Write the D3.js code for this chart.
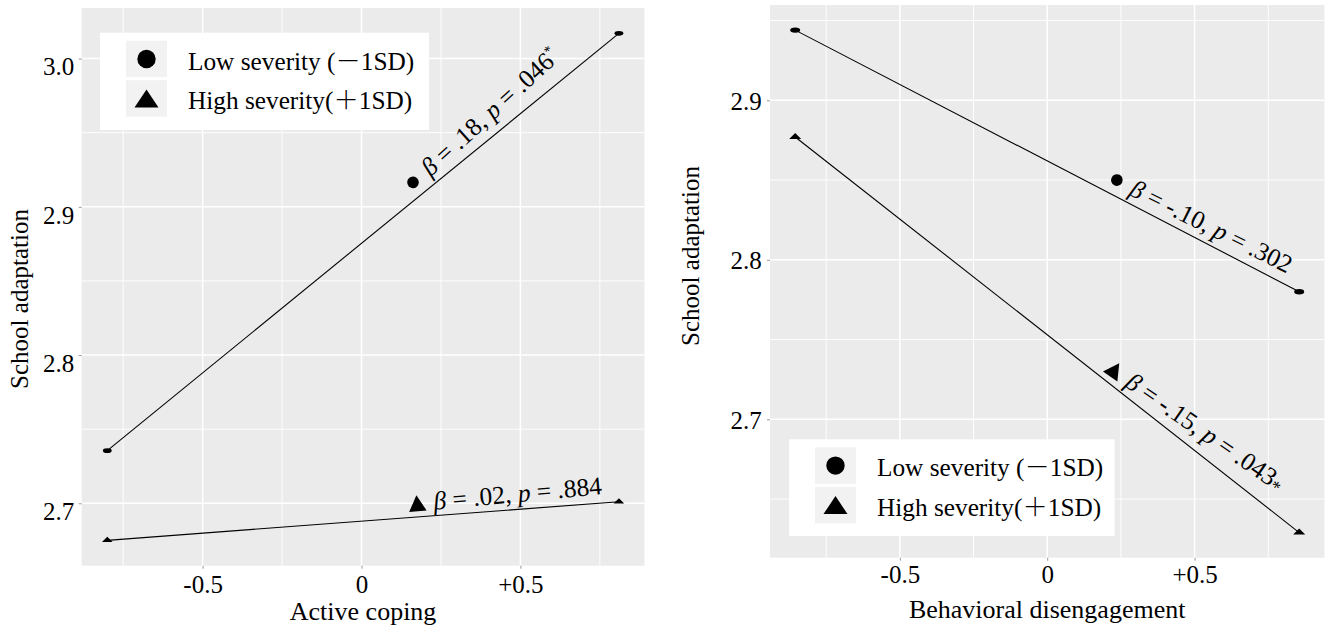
<!DOCTYPE html>
<html>
<head>
<meta charset="utf-8">
<script src="https://cdn.jsdelivr.net/npm/d3@7"></script>
<style>
  html, body { margin: 0; padding: 0; background: #fff; }
  svg { display: block; }
</style>
</head>
<body>
<svg id="chart" width="1328" height="630"></svg>
<script>
// ---- data -------------------------------------------------------------
const legendLabels = [
  ["Low severity (", "－", "1SD)"],
  ["High severity(", "＋", "1SD)"]
];
const groupKeys = ["low", "high"];

const xTickValues = [-0.5, 0, 0.5];
const xTickLabels = ["-0.5", "0", "+0.5"];
const xMinorValues = [-0.75, -0.25, 0.25, 0.75];

// Active coping panel
const copingX = [-0.80, 0.81];
const copingLow = [2.7355, 3.017];
const copingHigh = [2.675, 2.701];
const copingYTicks = [2.7, 2.8, 2.9, 3.0];
const copingYLabels = ["2.7", "2.8", "2.9", "3.0"];
const copingYMinor = [2.65, 2.75, 2.85, 2.95, 3.05];
const copingNotes = [
  { group: "low",  x: 0.162, y: 2.9165, beta: ".18", p: ".046", star: "sup" },
  { group: "high", x: 0.175, y: 2.700,  beta: ".02", p: ".884", star: "" }
];

// Behavioral disengagement panel
const disengX = [-0.855, 0.855];
const disengLow = [2.944, 2.780];
const disengHigh = [2.877, 2.629];
const disengYTicks = [2.7, 2.8, 2.9];
const disengYLabels = ["2.7", "2.8", "2.9"];
const disengYMinor = [2.6, 2.65, 2.75, 2.85, 2.95];
const disengNotes = [
  { group: "low",  x: 0.2365, y: 2.850, beta: "-.10", p: ".302", star: "" },
  { group: "high", x: 0.229,  y: 2.731, beta: "-.15", p: ".043", star: "mid" }
];

// ---- drawing ----------------------------------------------------------
const SERIF = "'Liberation Serif', 'Times New Roman', serif";
const CJK = "'Noto Sans CJK SC', sans-serif";
const TICK_FONT = 25;
const TITLE_FONT = 26;
const NOTE_FONT = 25.5;
const LEGEND_FONT = 25.3;

const svg = d3.select("#chart").style("font-family", SERIF);

function txt(sel, size) {
  return sel.style("font-family", SERIF).style("font-size", size + "px").attr("fill", "#000");
}

function expand(ext) {
  const pad = (ext[1] - ext[0]) * 0.05;
  return [ext[0] - pad, ext[1] + pad];
}

function triPath(w, h) {
  return `M${-w / 2},${h / 2}L${w / 2},${h / 2}L0,${-h / 2}Z`;
}

function drawPanel(cfg) {
  const g = svg.append("g");
  const { left, right, top, bottom } = cfg.box;

  const x = d3.scaleLinear().domain(expand(d3.extent(cfg.xs))).range([left, right]);
  const y = d3.scaleLinear()
    .domain(expand(d3.extent(cfg.low.concat(cfg.high))))
    .range([bottom, top]);

  // panel background
  g.append("rect")
    .attr("x", left).attr("y", top)
    .attr("width", right - left).attr("height", bottom - top)
    .attr("fill", "#EBEBEB");

  const inY = v => v >= y.domain()[0] && v <= y.domain()[1];
  const inX = v => v >= x.domain()[0] && v <= x.domain()[1];

  // minor grid
  g.append("g").selectAll("line").data(xMinorValues.filter(inX)).join("line")
    .attr("x1", d => x(d)).attr("x2", d => x(d))
    .attr("y1", top).attr("y2", bottom)
    .attr("stroke", "#fff").attr("stroke-width", 0.9);
  g.append("g").selectAll("line").data(cfg.yMinor.filter(inY)).join("line")
    .attr("y1", d => y(d)).attr("y2", d => y(d))
    .attr("x1", left).attr("x2", right)
    .attr("stroke", "#fff").attr("stroke-width", 0.9);
  // major grid
  g.append("g").selectAll("line").data(xTickValues).join("line")
    .attr("x1", d => x(d)).attr("x2", d => x(d))
    .attr("y1", top).attr("y2", bottom)
    .attr("stroke", "#fff").attr("stroke-width", 1.5);
  g.append("g").selectAll("line").data(cfg.yTicks).join("line")
    .attr("y1", d => y(d)).attr("y2", d => y(d))
    .attr("x1", left).attr("x2", right)
    .attr("stroke", "#fff").attr("stroke-width", 1.5);

  // axes
  const ya = g.append("g").attr("transform", `translate(${left},0)`)
    .call(d3.axisLeft(y).tickValues(cfg.yTicks)
      .tickFormat((d, i) => cfg.yLabels[i]).tickSize(3).tickPadding(4));
  ya.select(".domain").remove();
  ya.selectAll(".tick line").attr("stroke", "#999");
  txt(ya.selectAll(".tick text"), TICK_FONT)
    .attr("x", cfg.yLabelX).attr("dy", cfg.yLabelDy);

  const xa = g.append("g").attr("transform", `translate(0,${bottom})`)
    .call(d3.axisBottom(x).tickValues(xTickValues)
      .tickFormat((d, i) => xTickLabels[i]).tickSize(3));
  xa.select(".domain").remove();
  xa.selectAll(".tick line").attr("stroke", "#999");
  txt(xa.selectAll(".tick text"), TICK_FONT)
    .attr("y", cfg.xLabelY).attr("dy", 0);

  // axis titles
  txt(g.append("text"), TITLE_FONT)
    .attr("x", (left + right) / 2).attr("y", cfg.xTitleY)
    .attr("text-anchor", "middle")
    .text(cfg.xTitle);
  txt(g.append("text"), TICK_FONT)
    .attr("transform", `translate(${cfg.yTitleX},${cfg.yTitleY}) rotate(-90)`)
    .attr("text-anchor", "middle")
    .text("School adaptation");

  // simple slopes
  const series = { low: cfg.low, high: cfg.high };
  const angles = {};
  groupKeys.forEach(k => {
    const pts = cfg.xs.map((xv, i) => [x(xv), y(series[k][i])]);
    g.append("path")
      .attr("d", d3.line()(pts))
      .attr("fill", "none").attr("stroke", "#000").attr("stroke-width", 1.1);
    angles[k] = Math.atan2(pts[1][1] - pts[0][1], pts[1][0] - pts[0][0]) * 180 / Math.PI;
    pts.forEach(p => {
      if (k === "low") {
        g.append("ellipse").attr("cx", p[0]).attr("cy", p[1])
          .attr("rx", cfg.dotRx).attr("ry", cfg.dotRy).attr("fill", "#000");
      } else {
        g.append("path").attr("transform", `translate(${p[0]},${p[1] - 1})`)
          .attr("d", triPath(cfg.dotRx * 2.4, cfg.dotRy * 2.2)).attr("fill", "#000");
      }
    });
  });

  // slope annotations written along each line (with a small extra tilt)
  cfg.notes.forEach((n, i) => {
    const rot = angles[n.group] + cfg.noteTilt[i];
    const a = g.append("g")
      .attr("transform", `translate(${x(n.x)},${y(n.y)}) rotate(${rot})`);
    if (n.group === "low") {
      a.append("circle").attr("r", 5.8).attr("fill", "#000");
    } else {
      a.append("path").attr("d", triPath(17.5, 16)).attr("fill", "#000");
    }
    const t = txt(a.append("text"), NOTE_FONT).attr("x", 16.5).attr("y", 8);
    t.append("tspan").style("font-style", "italic").text("β");
    t.append("tspan").text(` = ${n.beta}, `);
    t.append("tspan").style("font-style", "italic").text("p");
    t.append("tspan").text(` = ${n.p}`);
    if (n.star === "sup") {
      t.append("tspan").style("font-size", "14px").attr("dy", -10).text("*");
    } else if (n.star === "mid") {
      t.append("tspan").style("font-size", "18px").attr("dy", 3).text("*");
    }
  });

  // legend
  const L = cfg.legend;
  g.append("rect").attr("x", L.x).attr("y", L.y)
    .attr("width", L.w).attr("height", L.h).attr("fill", "#fff");
  groupKeys.forEach((k, i) => {
    const ky = L.y + 8 + i * 39.5;
    g.append("rect").attr("x", L.x + 26).attr("y", ky)
      .attr("width", 41).attr("height", 36.5).attr("fill", "#F2F2F2");
    const cx = L.x + 46.5, cy = ky + 18.3;
    if (k === "low") {
      g.append("circle").attr("cx", cx).attr("cy", cy).attr("r", 9.2).attr("fill", "#000");
    } else {
      g.append("path").attr("transform", `translate(${cx},${cy})`)
        .attr("d", triPath(24, 18)).attr("fill", "#000");
    }
    const lt = txt(g.append("text"), LEGEND_FONT).attr("x", L.x + 88).attr("y", ky + 29);
    const parts = legendLabels[i];
    lt.append("tspan").text(parts[0]);
    lt.append("tspan").style("font-family", CJK).style("font-weight", 300).text(parts[1]);
    lt.append("tspan").text(parts[2]);
  });
}

drawPanel({
  box: { left: 81.7, right: 644.5, top: 8, bottom: 565.7 },
  xs: copingX, low: copingLow, high: copingHigh,
  yTicks: copingYTicks, yLabels: copingYLabels, yMinor: copingYMinor,
  yLabelX: -7.4, yLabelDy: "0.65em", xLabelY: 27.8,
  xTitle: "Active coping", xTitleY: 620,
  yTitleX: 28, yTitleY: 299,
  dotRx: 4.4, dotRy: 2.4,
  notes: copingNotes, noteTilt: [-3, -1],
  legend: { x: 100, y: 32.7, w: 329, h: 97.3 }
});

drawPanel({
  box: { left: 770, right: 1324.4, top: 5, bottom: 557.7 },
  xs: disengX, low: disengLow, high: disengHigh,
  yTicks: disengYTicks, yLabels: disengYLabels, yMinor: disengYMinor,
  yLabelX: -8.3, yLabelDy: "0.36em", xLabelY: 25,
  xTitle: "Behavioral disengagement", xTitleY: 618,
  yTitleX: 698.5, yTitleY: 256,
  dotRx: 5, dotRy: 2.7,
  notes: disengNotes, noteTilt: [-1, -3.5],
  legend: { x: 789, y: 439.3, w: 325.6, h: 96.7 }
});
</script>
</body>
</html>
